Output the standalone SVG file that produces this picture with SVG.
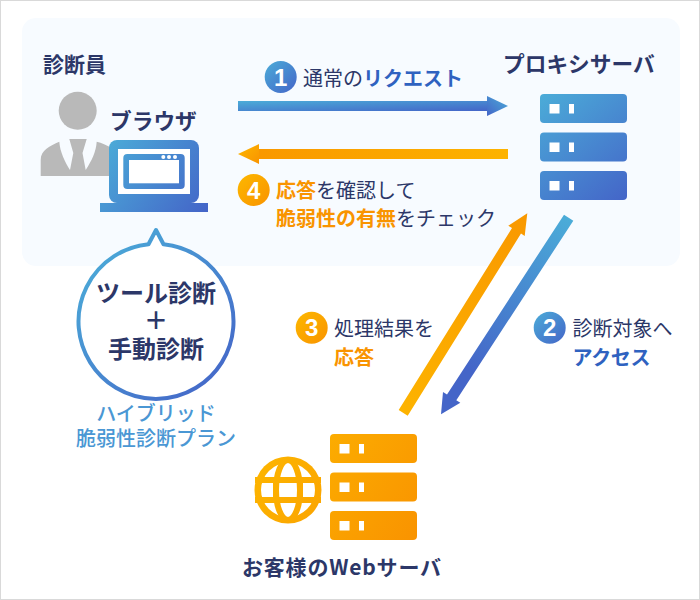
<svg xmlns="http://www.w3.org/2000/svg" width="700" height="600" viewBox="0 0 700 600">
<style>
text{font-family:"Noto Sans CJK JP","Noto Sans",sans-serif;fill:#2c3768}
.b{font-weight:700}
.m{font-weight:400}
.blue{fill:#2f62c0;font-weight:700}
.or{fill:#f99400;font-weight:700}
.sky{fill:#4a97d4;font-weight:500}
.num{font-family:"Liberation Sans",Arial,sans-serif;font-weight:700;font-size:24px;fill:#fff;text-anchor:middle}
.wh{fill:#fff}
</style>
<defs>
<linearGradient id="gb" x1="0" y1="0" x2="1" y2="1"><stop offset="0" stop-color="#4bacd8"/><stop offset="1" stop-color="#4465c8"/></linearGradient>
<linearGradient id="gbh" x1="1" y1="0" x2="0" y2="1"><stop offset="0" stop-color="#4bacd8"/><stop offset="1" stop-color="#4465c8"/></linearGradient>
<linearGradient id="go" x1="0" y1="0" x2="1" y2="1"><stop offset="0" stop-color="#fdb800"/><stop offset="1" stop-color="#f99300"/></linearGradient>
<linearGradient id="goh" x1="1" y1="0" x2="0" y2="0"><stop offset="0" stop-color="#fdb300"/><stop offset="1" stop-color="#f99800"/></linearGradient>
<linearGradient id="gsrv" gradientUnits="userSpaceOnUse" x1="540" y1="94" x2="627" y2="200"><stop offset="0" stop-color="#4bacd8"/><stop offset="1" stop-color="#4465c8"/></linearGradient>
<linearGradient id="gweb" gradientUnits="userSpaceOnUse" x1="255" y1="434" x2="417" y2="540"><stop offset="0" stop-color="#fdb800"/><stop offset="1" stop-color="#f99300"/></linearGradient>
<linearGradient id="glap" gradientUnits="userSpaceOnUse" x1="105" y1="140" x2="205" y2="212"><stop offset="0" stop-color="#4bacd8"/><stop offset="1" stop-color="#4465c8"/></linearGradient>
<linearGradient id="gbub" gradientUnits="userSpaceOnUse" x1="85" y1="250" x2="225" y2="390"><stop offset="0" stop-color="#4bacd8"/><stop offset="1" stop-color="#4465c8"/></linearGradient>
<linearGradient id="ga3" gradientUnits="userSpaceOnUse" x1="403" y1="413" x2="527" y2="213"><stop offset="0" stop-color="#fdb300"/><stop offset="1" stop-color="#f99800"/></linearGradient>
<linearGradient id="ga2" gradientUnits="userSpaceOnUse" x1="568" y1="218" x2="470" y2="370"><stop offset="0" stop-color="#4bacd8"/><stop offset="1" stop-color="#4465c8"/></linearGradient>
</defs>

<rect x="0.5" y="0.5" width="699" height="599" fill="#fff" stroke="#d9d9d9"/>
<rect x="22" y="18" width="658" height="248" rx="14" fill="#f7fbff"/>

<g id="connectors">
<g id="arrow-1"><rect x="238" y="101" width="249" height="10" fill="url(#gb)"/><path d="M487 96L508 106L487 116Z" fill="url(#gbh)"/></g>
<g id="arrow-4"><rect x="259" y="149" width="249" height="10" fill="url(#goh)"/><path d="M238 154L259 144V164Z" fill="url(#go)"/></g>
<path id="arrow-3" d="M398.7 410L512 228L508.3 225.7L527.3 213.3L524.7 236L521 233.6L407.7 415.7Z" fill="url(#ga3)"/>
<path id="arrow-2" d="M564 214.7L447 394.4L443 392L441 414.3L460.3 402.7L456.3 400.2L573.3 220.7Z" fill="url(#ga2)"/>
</g>

<g id="examiner">
<text x="43" y="71.5" class="b" font-size="21">診断員</text>
<g id="person" fill="#b9b9b9">
<circle cx="77.7" cy="110.7" r="19"/>
<path d="M40.7 176V160C40.7 150 50 146 59.3 141.7C60 152 65 162 70 170L73.3 153L69.3 139H86.7L82.5 153L85.7 170C92 160 96 152 96.7 141.7C102 143 106 145 112 148V176Z"/>
</g>
</g>

<g id="browser">
<text x="110" y="129" class="b" font-size="21.7">ブラウザ</text>
<rect x="109" y="140" width="90" height="63" rx="8" fill="url(#glap)"/>
<rect x="100" y="203" width="108" height="9" fill="url(#glap)"/>
<rect x="118" y="149" width="72" height="45" class="wh"/>
<rect x="123.3" y="154" width="61.4" height="35" rx="4" fill="url(#glap)"/>
<rect x="129" y="160" width="50" height="23.3" class="wh"/>
<circle cx="163.3" cy="157" r="2" class="wh"/><circle cx="169" cy="157" r="2" class="wh"/><circle cx="175" cy="157" r="2" class="wh"/>
</g>

<g id="proxy-server">
<text x="503" y="71.5" class="b" font-size="21.7">プロキシサーバ</text>
<rect x="540" y="94" width="87" height="29" rx="4" fill="url(#gsrv)"/>
<rect x="540" y="132.5" width="87" height="29" rx="4" fill="url(#gsrv)"/>
<rect x="540" y="171" width="87" height="29" rx="4" fill="url(#gsrv)"/>
<rect x="549.5" y="104" width="10" height="9.5" class="wh"/><rect x="569" y="104" width="5" height="9.5" class="wh"/>
<rect x="549.5" y="142.5" width="10" height="9.5" class="wh"/><rect x="569" y="142.5" width="5" height="9.5" class="wh"/>
<rect x="549.5" y="181" width="10" height="9.5" class="wh"/><rect x="569" y="181" width="5" height="9.5" class="wh"/>
</g>

<g id="label-1">
<circle cx="280.7" cy="77" r="16" fill="url(#gb)"/>
<text x="280.7" y="85.5" class="num">1</text>
<text x="303" y="85.5" font-size="20" class="m">通常の<tspan class="blue">リクエスト</tspan></text>
</g>
<g id="label-4">
<circle cx="253.7" cy="190" r="16" fill="url(#go)"/>
<text x="253.7" y="198.5" class="num">4</text>
<text x="276" y="198" font-size="20" class="m"><tspan class="or">応答</tspan>を確認して</text>
<text x="276" y="226" font-size="20" class="m"><tspan class="or">脆弱性の有無</tspan>をチェック</text>
</g>
<g id="label-3">
<circle cx="311.7" cy="327.7" r="16" fill="url(#go)"/>
<text x="311.7" y="336.2" class="num">3</text>
<text x="334" y="336" font-size="20" class="m">処理結果を</text>
<text x="334" y="364.5" font-size="20" class="or">応答</text>
</g>
<g id="label-2">
<circle cx="549.7" cy="327.7" r="16" fill="url(#gb)"/>
<text x="549.7" y="336.2" class="num">2</text>
<text x="572.5" y="336" font-size="20" class="m">診断対象へ</text>
<text x="572.5" y="364.5" font-size="20" class="blue" textLength="78">アクセス</text>
</g>

<g id="bubble">
<path d="M148.5 244.3L156 230L163.5 244.3A77.5 77.5 0 1 1 148.5 244.3Z" fill="#fff" stroke="url(#gbub)" stroke-width="4" stroke-linejoin="round"/>
<text x="156" y="302" class="b" font-size="24" text-anchor="middle">ツール診断</text>
<text x="156" y="329" class="b" font-size="24" text-anchor="middle">＋</text>
<text x="156" y="358" class="b" font-size="24" text-anchor="middle">手動診断</text>
<text x="156" y="421" class="sky" font-size="20" text-anchor="middle">ハイブリッド</text>
<text x="156" y="446" class="sky" font-size="20" text-anchor="middle">脆弱性診断プラン</text>
</g>

<g id="web-server">
<rect x="330" y="434" width="87" height="29" rx="4" fill="url(#gweb)"/>
<rect x="330" y="472.5" width="87" height="29" rx="4" fill="url(#gweb)"/>
<rect x="330" y="511" width="87" height="29" rx="4" fill="url(#gweb)"/>
<rect x="339.5" y="444" width="10" height="9.5" class="wh"/><rect x="359" y="444" width="5" height="9.5" class="wh"/>
<rect x="339.5" y="482.5" width="10" height="9.5" class="wh"/><rect x="359" y="482.5" width="5" height="9.5" class="wh"/>
<rect x="339.5" y="521" width="10" height="9.5" class="wh"/><rect x="359" y="521" width="5" height="9.5" class="wh"/>
<g id="globe">
<circle cx="288" cy="490" r="33.5" fill="url(#gweb)"/>
<circle cx="288" cy="490" r="27" class="wh"/>
<ellipse cx="288" cy="490" rx="12" ry="30" fill="none" stroke="url(#gweb)" stroke-width="6"/>
<rect x="255" y="477" width="66" height="6" fill="url(#gweb)"/>
<rect x="255" y="497" width="66" height="6" fill="url(#gweb)"/>
<rect x="273" y="483" width="6" height="14" fill="url(#gweb)"/>
<rect x="297" y="483" width="6" height="14" fill="url(#gweb)"/>
</g>
<text x="242" y="575" class="b" font-size="21" textLength="199">お客様のWebサーバ</text>
</g>
</svg>
